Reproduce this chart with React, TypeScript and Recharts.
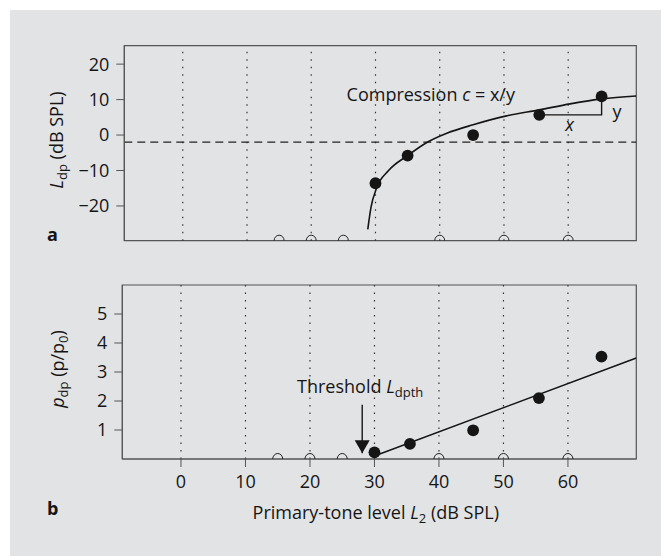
import React from 'react';
import {
  ComposedChart,
  XAxis,
  YAxis,
  Scatter,
  Line,
  ReferenceLine,
  ReferenceArea,
  ReferenceDot,
} from 'recharts';

// ---------------- data ----------------
const xDomain: [number, number] = [-9.1, 70.6];
const xTicks = [0, 10, 20, 30, 40, 50, 60];
const noiseFloorMarks = [15, 20, 25, 40, 50, 60];

// panel a : Ldp (dB SPL)
const ldpDomain: [number, number] = [-29.8, 25.2];
const ldpTicks = [-20, -10, 0, 10, 20];
const ldpL2 = [30, 35, 45.2, 55.5, 65.2];
const ldpValues = [-13.6, -5.8, 0.0, 5.7, 10.9];
const fitL2 = [28.8, 29.3, 30.2, 32.0, 35.0, 38.0, 41.1, 45.2, 50.4, 55.5, 60.3, 65.2, 70.6];
const fitLdp = [-26.6, -20.4, -14.8, -10.1, -5.8, -2.1, 0.5, 2.9, 5.4, 7.1, 8.8, 10.2, 11.0];
const noiseLevelLdp = -2;
const bracketL2 = [55.5, 65.2, 65.2];
const bracketLdp = [5.7, 5.7, 10.9];

// panel b : pdp (p/p0)
const pdpDomain: [number, number] = [0, 6];
const pdpTicks = [1, 2, 3, 4, 5];
const pdpL2 = [30, 35.5, 45.3, 55.5, 65.2];
const pdpValues = [0.23, 0.52, 0.99, 2.1, 3.53];
const regL2 = [30.5, 70.6];
const regPdp = [0.15, 3.48];
const thresholdL2 = 28.1;
const arrowPdp = [1.87, 0.2];

// ---------------- helpers ----------------
const zip = (xs: number[], ys: number[]) => xs.map((x, i) => ({ x, y: ys[i] }));

const ldpPoints = zip(ldpL2, ldpValues);
const fitPoints = zip(fitL2, fitLdp);
const bracketPoints = zip(bracketL2, bracketLdp);
const noiseA = noiseFloorMarks.map((x) => ({ x, y: ldpDomain[0] }));

const pdpPoints = zip(pdpL2, pdpValues);
const regPoints = zip(regL2, regPdp);
const noiseB = noiseFloorMarks.map((x) => ({ x, y: pdpDomain[0] }));
const arrowShaft = arrowPdp.map((y) => ({ x: thresholdL2, y }));
const arrowTip = [{ x: thresholdL2, y: arrowPdp[1] }];

const FONT = '"Open Sans", "Noto Sans", sans-serif';
const INK = '#151515';
const AXIS = '#555';
const BG = '#e2e3e5';

const dotShape = (p: any) => <circle cx={p.cx} cy={p.cy} r={5.9} fill={INK} />;
const arcShape = (p: any) => (
  <path
    d={`M ${p.cx - 5} ${p.cy} A 5 5.5 0 0 1 ${p.cx + 5} ${p.cy}`}
    fill="none"
    stroke="#222"
    strokeWidth={1}
  />
);
const triShape = (p: any) => (
  <path d={`M ${p.cx - 7.5} ${p.cy - 13} L ${p.cx + 7.5} ${p.cy - 13} L ${p.cx} ${p.cy} Z`} fill={INK} />
);

const at = (render: (x: number, y: number) => React.ReactNode) => (props: any) => {
  const vb = props.viewBox || {};
  const x = (vb.x ?? 0) + (vb.width ?? 0) / 2;
  const y = (vb.y ?? 0) + (vb.height ?? 0) / 2;
  return <g>{render(x, y)}</g>;
};

const minus = (v: number) => String(v).replace('-', '\u2212');
const tickStyle = { fontFamily: FONT, fontSize: 18, fill: INK };

const gridLines = (keyPrefix: string) =>
  xTicks.map((x) => (
    <ReferenceLine
      key={keyPrefix + x}
      x={x}
      stroke="#333"
      strokeWidth={1.2}
      strokeDasharray="1.5 6"
    />
  ));

const titleA = () => (
  <g>
    <text
      x={63}
      y={140}
      transform="rotate(-90 63 140)"
      textAnchor="middle"
      fontFamily={FONT}
      fontSize={18}
      fill={INK}
    >
      <tspan fontStyle="italic">L</tspan>
      <tspan fontSize={13} dy={4}>dp</tspan>
      <tspan dy={-4}> (dB SPL)</tspan>
    </text>
    <text x={47} y={241} fontFamily={FONT} fontSize={18} fontWeight="bold" fill={INK}>
      a
    </text>
  </g>
);

const titleB = () => (
  <g>
    <text
      x={64}
      y={99}
      transform="rotate(-90 64 99)"
      textAnchor="middle"
      fontFamily={FONT}
      fontSize={18}
      fill={INK}
    >
      <tspan fontStyle="italic">p</tspan>
      <tspan fontSize={13} dy={4}>dp</tspan>
      <tspan dy={-4}> (p/p</tspan>
      <tspan fontSize={13} dy={4}>0</tspan>
      <tspan dy={-4}>)</tspan>
    </text>
    <text x={47} y={245} fontFamily={FONT} fontSize={18} fontWeight="bold" fill={INK}>
      b
    </text>
  </g>
);

const xTitle = () => (
  <text x={375.8} y={249} textAnchor="middle" fontFamily={FONT} fontSize={18} fill={INK}>
    <tspan>Primary-tone level </tspan>
    <tspan fontStyle="italic">L</tspan>
    <tspan fontSize={13} dy={4}>2</tspan>
    <tspan dy={-4}> (dB SPL)</tspan>
  </text>
);

function PanelA() {
  return (
    <ComposedChart
      width={661}
      height={270}
      margin={{ top: 45.7, right: 24.7, bottom: 29.3, left: 0 }}
    >
      <XAxis
        type="number"
        dataKey="x"
        domain={xDomain}
        allowDataOverflow
        ticks={xTicks}
        hide
      />
      <YAxis
        type="number"
        dataKey="y"
        domain={ldpDomain}
        allowDataOverflow
        ticks={ldpTicks}
        width={124.3}
        tickSize={8}
        tickMargin={7}
        tick={tickStyle}
        tickFormatter={minus}
        stroke={AXIS}
        axisLine={{ stroke: AXIS }}
        tickLine={{ stroke: AXIS }}
        label={titleA}
      />
      {gridLines('ga')}
      <ReferenceLine y={noiseLevelLdp} stroke="#222" strokeWidth={1.3} strokeDasharray="8 5" />
      <ReferenceArea
        x1={xDomain[0]}
        x2={xDomain[1]}
        y1={ldpDomain[0]}
        y2={ldpDomain[1]}
        ifOverflow="visible"
        fill="none"
        fillOpacity={0}
        stroke={AXIS}
        strokeWidth={1.2}
        strokeOpacity={1}
      />
      <Line
        data={fitPoints}
        dataKey="y"
        type="monotone"
        stroke={INK}
        strokeWidth={1.6}
        dot={false}
        activeDot={false}
        isAnimationActive={false}
      />
      <Line
        data={bracketPoints}
        dataKey="y"
        type="linear"
        stroke={INK}
        strokeWidth={1.4}
        dot={false}
        activeDot={false}
        isAnimationActive={false}
      />
      <Scatter data={noiseA} dataKey="y" shape={arcShape} isAnimationActive={false} />
      <Scatter data={ldpPoints} dataKey="y" shape={dotShape} isAnimationActive={false} />
      <ReferenceDot
        x={25.5}
        y={9.7}
        r={2}
        fill="none"
        stroke="none"
        label={at((x, y) => (
          <text x={x} y={y} fontFamily={FONT} fontSize={18} fill={INK}>
            <tspan>Compression </tspan>
            <tspan fontStyle="italic">c</tspan>
            <tspan> = x/y</tspan>
          </text>
        ))}
      />
      <ReferenceDot
        x={60.2}
        y={1.2}
        r={2}
        fill="none"
        stroke="none"
        label={at((x, y) => (
          <text x={x} y={y} textAnchor="middle" fontFamily={FONT} fontSize={18} fontStyle="italic" fill={INK}>
            x
          </text>
        ))}
      />
      <ReferenceDot
        x={67.6}
        y={4.7}
        r={2}
        fill="none"
        stroke="none"
        label={at((x, y) => (
          <text x={x} y={y} textAnchor="middle" fontFamily={FONT} fontSize={18} fill={INK}>
            y
          </text>
        ))}
      />
    </ComposedChart>
  );
}

function PanelB() {
  return (
    <ComposedChart
      width={661}
      height={286}
      margin={{ top: 15, right: 24.7, bottom: 57, left: 0 }}
    >
      <XAxis
        type="number"
        dataKey="x"
        domain={xDomain}
        allowDataOverflow
        ticks={xTicks}
        height={40}
        tickSize={8}
        tickMargin={8}
        tick={tickStyle}
        stroke={AXIS}
        axisLine={{ stroke: AXIS }}
        tickLine={{ stroke: AXIS }}
        label={xTitle}
      />
      <YAxis
        type="number"
        dataKey="y"
        domain={pdpDomain}
        allowDataOverflow
        ticks={pdpTicks}
        width={122.3}
        tickSize={8}
        tickMargin={7}
        tick={tickStyle}
        stroke={AXIS}
        axisLine={{ stroke: AXIS }}
        tickLine={{ stroke: AXIS }}
        label={titleB}
      />
      {gridLines('gb')}
      <ReferenceArea
        x1={xDomain[0]}
        x2={xDomain[1]}
        y1={pdpDomain[0]}
        y2={pdpDomain[1]}
        ifOverflow="visible"
        fill="none"
        fillOpacity={0}
        stroke={AXIS}
        strokeWidth={1.2}
        strokeOpacity={1}
      />
      <Line
        data={regPoints}
        dataKey="y"
        type="linear"
        stroke={INK}
        strokeWidth={1.6}
        dot={false}
        activeDot={false}
        isAnimationActive={false}
      />
      <Line
        data={arrowShaft}
        dataKey="y"
        type="linear"
        stroke={INK}
        strokeWidth={1.4}
        dot={false}
        activeDot={false}
        isAnimationActive={false}
      />
      <Scatter data={arrowTip} dataKey="y" shape={triShape} isAnimationActive={false} />
      <Scatter data={noiseB} dataKey="y" shape={arcShape} isAnimationActive={false} />
      <Scatter data={pdpPoints} dataKey="y" shape={dotShape} isAnimationActive={false} />
      <ReferenceDot
        x={18.0}
        y={2.29}
        r={2}
        fill="none"
        stroke="none"
        label={at((x, y) => (
          <text x={x} y={y} fontFamily={FONT} fontSize={18} fill={INK}>
            <tspan>Threshold </tspan>
            <tspan fontStyle="italic">L</tspan>
            <tspan fontSize={13} dy={4}>dpth</tspan>
          </text>
        ))}
      />
    </ComposedChart>
  );
}

export default function App() {
  return (
    <div style={{ position: 'absolute', left: 0, top: 0, width: 661, height: 556, background: '#fff' }}>
      <div style={{ position: 'absolute', left: 10, top: 10, width: 651, height: 546, background: BG }} />
      <div style={{ position: 'absolute', left: 0, top: 0 }}>
        <PanelA />
      </div>
      <div style={{ position: 'absolute', left: 0, top: 270 }}>
        <PanelB />
      </div>
    </div>
  );
}
